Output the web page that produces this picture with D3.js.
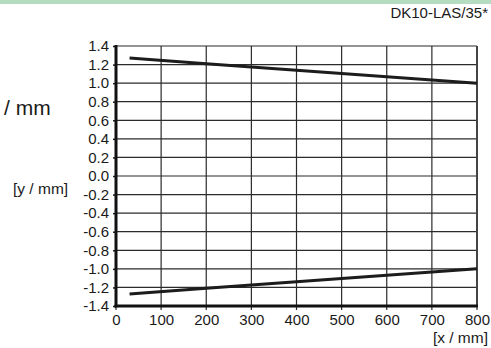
<!DOCTYPE html>
<html>
<head>
<meta charset="utf-8">
<title>DK10-LAS/35*</title>
<style>
  body { margin: 0; background: #fff; }
  text { font-family: "Liberation Sans", Arial, sans-serif; fill: #1a1a1a; }
</style>
</head>
<body>
<script src="https://cdn.jsdelivr.net/npm/d3@7"></script>
<script>
var width = 491;
var height = 348;

// values
var xPos = [30, 200, 400, 600, 800];
var upperY = [1.27, 1.21, 1.14, 1.07, 1.0];
var lowerY = [-1.27, -1.21, -1.14, -1.07, -1.0];
var xTicks = [0, 100, 200, 300, 400, 500, 600, 700, 800];
var yTicks = [1.4, 1.2, 1.0, 0.8, 0.6, 0.4, 0.2, 0.0, -0.2, -0.4, -0.6, -0.8, -1.0, -1.2, -1.4];

var svg = d3.select("body").append("svg")
    .attr("width", width)
    .attr("height", height);

// green strip on top
svg.append("rect")
    .attr("x", 0).attr("y", 0)
    .attr("width", width).attr("height", 4)
    .attr("fill", "#b4dcc1");

var x = d3.scaleLinear().domain([0, 800]).range([116, 477]);
var y = d3.scaleLinear().domain([-1.4, 1.4]).range([306, 46]);

// grid
svg.append("g").selectAll("line.h")
    .data(yTicks)
    .enter().append("line")
    .attr("x1", x(0)).attr("x2", x(800))
    .attr("y1", function(d) { return y(d); })
    .attr("y2", function(d) { return y(d); })
    .attr("stroke", "#2b2b2b")
    .attr("stroke-width", 1.2);

svg.append("g").selectAll("line.v")
    .data(xTicks)
    .enter().append("line")
    .attr("x1", function(d) { return x(d); })
    .attr("x2", function(d) { return x(d); })
    .attr("y1", y(1.4)).attr("y2", y(-1.4) + 4)
    .attr("stroke", "#2b2b2b")
    .attr("stroke-width", 1.2);

// right border a bit heavier
svg.append("line")
    .attr("x1", x(800)).attr("x2", x(800))
    .attr("y1", y(1.4)).attr("y2", y(-1.4))
    .attr("stroke", "#444")
    .attr("stroke-width", 2);

// axes
var yAxis = d3.axisLeft(y).tickValues(yTicks).tickSize(3).tickPadding(4)
    .tickFormat(d3.format(".1f"));
var gy = svg.append("g").attr("transform", "translate(" + x(0) + ",0)").call(yAxis);
gy.select(".domain").remove();
gy.selectAll("line").attr("stroke", "#1a1a1a").attr("stroke-width", 1.5);
gy.selectAll("text").attr("font-size", 15).attr("fill", "#1a1a1a")
    .text(function(d) { return d3.format(".1f")(d).replace("−", "-"); });

var xAxis = d3.axisBottom(x).tickValues(xTicks).tickSize(0).tickPadding(8)
    .tickFormat(d3.format("d"));
var gx = svg.append("g").attr("transform", "translate(0," + y(-1.4) + ")").call(xAxis);
gx.select(".domain").remove();
gx.selectAll("text").attr("font-size", 15).attr("fill", "#1a1a1a");

svg.append("line")
    .attr("x1", x(0)).attr("x2", x(0))
    .attr("y1", y(1.4) - 1).attr("y2", y(-1.4) + 1.5)
    .attr("stroke", "#111").attr("stroke-width", 3);
svg.append("line")
    .attr("x1", x(0) - 1.5).attr("x2", x(800) + 1)
    .attr("y1", y(-1.4)).attr("y2", y(-1.4))
    .attr("stroke", "#111").attr("stroke-width", 3);

// curves
var line = d3.line()
    .x(function(d) { return x(d[0]); })
    .y(function(d) { return y(d[1]); });

[upperY, lowerY].forEach(function(s) {
  svg.append("path")
      .datum(d3.zip(xPos, s))
      .attr("d", line)
      .attr("fill", "none")
      .attr("stroke", "#1c1c1c")
      .attr("stroke-width", 3);
});

// labels
svg.append("text").attr("x", 488).attr("y", 18).attr("text-anchor", "end")
    .attr("font-size", 15).text("DK10-LAS/35*");
svg.append("text").attr("x", 4).attr("y", 115)
    .attr("font-size", 21).text("/ mm");
svg.append("text").attr("x", 13).attr("y", 194)
    .attr("font-size", 15.5).text("[y / mm]");
svg.append("text").attr("x", 488).attr("y", 343).attr("text-anchor", "end")
    .attr("font-size", 15.5).text("[x / mm]");
</script>
</body>
</html>
